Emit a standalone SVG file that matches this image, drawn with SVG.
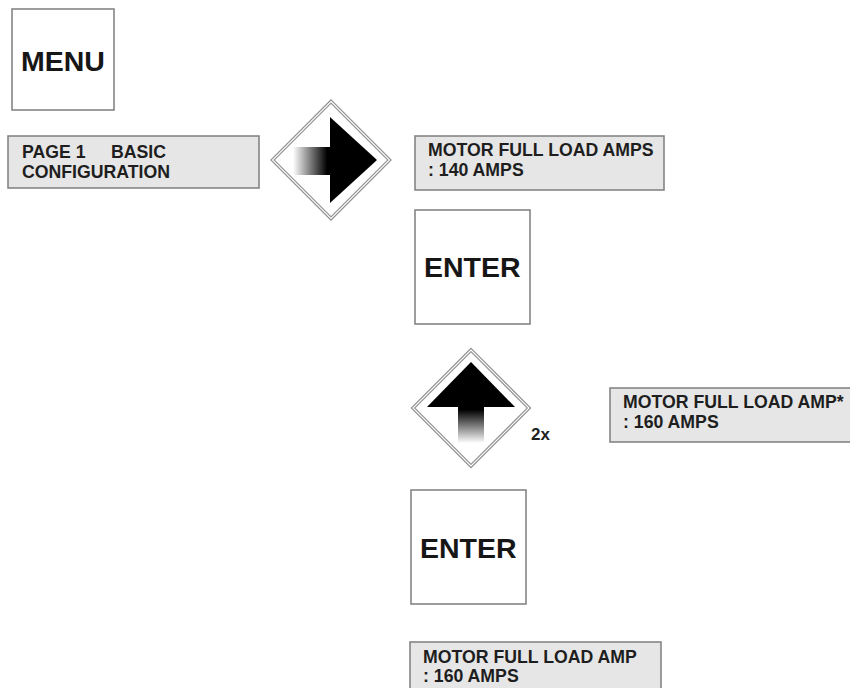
<svg xmlns="http://www.w3.org/2000/svg" width="850" height="688" viewBox="0 0 850 688">
  <style>
    .key{fill:#ffffff;stroke:#858585;stroke-width:1.6}
    .lcd{fill:#e6e6e6;stroke:#858585;stroke-width:1.6}
    .big{font-family:"Liberation Sans",Arial,sans-serif;font-weight:bold;font-size:28.5px;fill:#161616}
    .txt{font-family:"Liberation Sans",Arial,sans-serif;font-weight:bold;font-size:17.7px;fill:#1e1e1e}
    .small{font-family:"Liberation Sans",Arial,sans-serif;font-weight:bold;font-size:17px;fill:#1e1e1e}
    .dOuter{fill:#ffffff;stroke:#8e8e8e;stroke-width:3.4}
    .dInner{fill:none;stroke:#ffffff;stroke-width:1.1}
  </style>
  <defs>
    <linearGradient id="gRight" x1="0" y1="0" x2="1" y2="0">
      <stop offset="0" stop-color="#ffffff"/>
      <stop offset="0.9" stop-color="#000000"/>
      <stop offset="1" stop-color="#000000"/>
    </linearGradient>
    <linearGradient id="gUp" x1="0" y1="0" x2="0" y2="1">
      <stop offset="0" stop-color="#000000"/>
      <stop offset="0.1" stop-color="#000000"/>
      <stop offset="1" stop-color="#ffffff"/>
    </linearGradient>
  </defs>
  <rect width="850" height="688" fill="#ffffff"/>

  <g id="menu">
    <rect class="key" x="12" y="9" width="102" height="101"/>
    <text class="big" x="21" y="71">MENU</text>
  </g>

  <g id="page1">
    <rect class="lcd" x="8" y="136" width="251" height="52"/>
    <text class="txt" x="22" y="158">PAGE 1</text>
    <text class="txt" x="111" y="158">BASIC</text>
    <text class="txt" x="22" y="178">CONFIGURATION</text>
  </g>

  <g id="right-key">
    <polygon class="dOuter" points="331,101.5 389.5,160 331,218.5 272.5,160"/>
    <polygon class="dInner" points="331,101.5 389.5,160 331,218.5 272.5,160"/>
    <rect x="293" y="147" width="38" height="28" fill="url(#gRight)"/>
    <polygon points="330,117 377,160 330,203" fill="#000000"/>
  </g>

  <g id="fla140">
    <rect class="lcd" x="415" y="136" width="249" height="54"/>
    <text class="txt" x="428" y="156">MOTOR FULL LOAD AMPS</text>
    <text class="txt" x="428" y="176">: 140 AMPS</text>
  </g>

  <g id="enter1">
    <rect class="key" x="415" y="210" width="115" height="114"/>
    <text class="big" x="424" y="277">ENTER</text>
  </g>

  <g id="up-key">
    <polygon class="dOuter" points="471,350 529,408 471,466 413,408"/>
    <polygon class="dInner" points="471,350 529,408 471,466 413,408"/>
    <rect x="458" y="406" width="26" height="37" fill="url(#gUp)"/>
    <polygon points="471,362 515,407 427,407" fill="#000000"/>
    <text class="small" x="531" y="440">2x</text>
  </g>

  <g id="fla160-edit">
    <rect class="lcd" x="610" y="388" width="245" height="54"/>
    <text class="txt" x="623" y="408">MOTOR FULL LOAD AMP*</text>
    <text class="txt" x="623" y="428">: 160 AMPS</text>
  </g>

  <g id="enter2">
    <rect class="key" x="411" y="490" width="115" height="114"/>
    <text class="big" x="420" y="558">ENTER</text>
  </g>

  <g id="fla160">
    <rect class="lcd" x="410" y="642" width="251" height="54"/>
    <text class="txt" x="423" y="663">MOTOR FULL LOAD AMP</text>
    <text class="txt" x="423" y="682">: 160 AMPS</text>
  </g>

  <g id="connectors"/>
</svg>
